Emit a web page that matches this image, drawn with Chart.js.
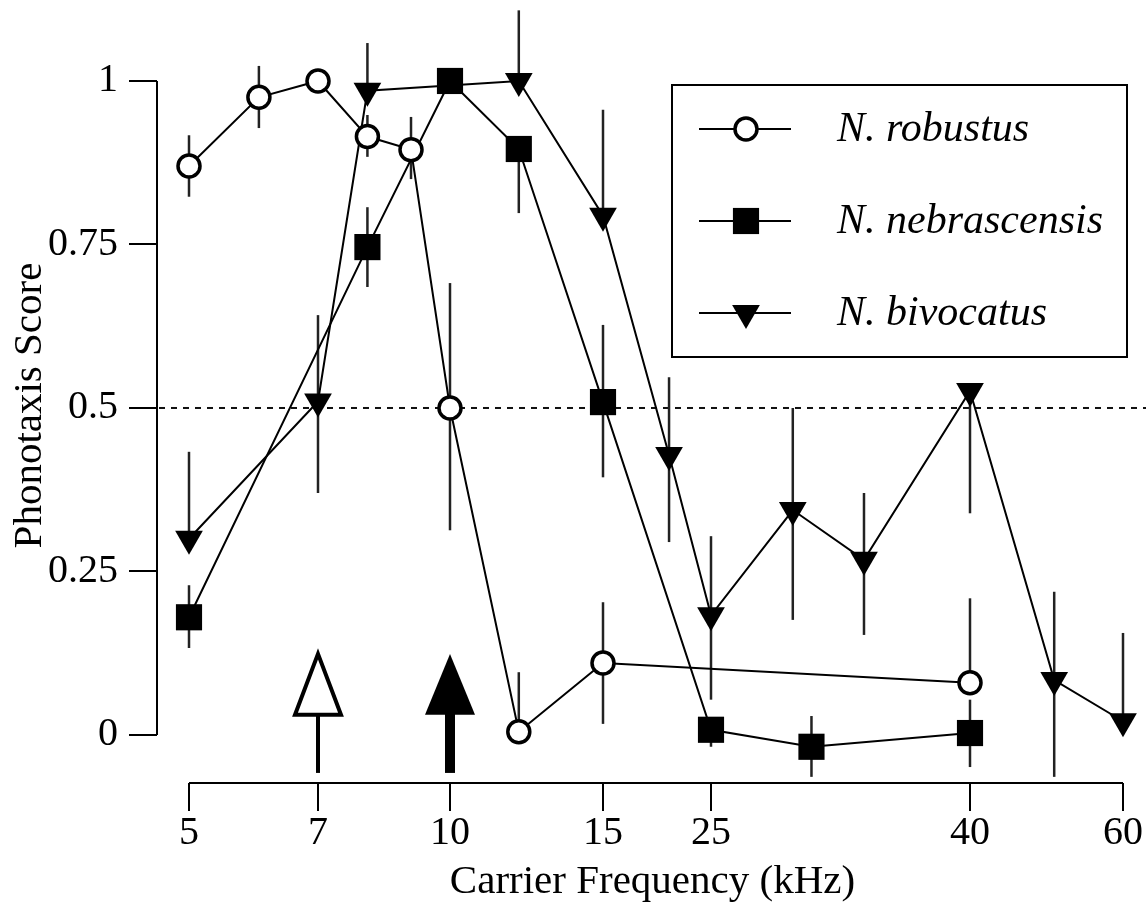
<!DOCTYPE html>
<html>
<head>
<meta charset="utf-8">
<title>Phonotaxis score vs carrier frequency</title>
<script src="https://cdn.jsdelivr.net/npm/chart.js@4.4.1/dist/chart.umd.min.js"></script>
<style>
  body { margin: 0; background: #fff; }
  canvas { display: block; }
</style>
</head>
<body>
<canvas id="myChart" width="1148" height="906"></canvas>
<script>
// axis ticks
var freqTicks = [5, 7, 10, 15, 25, 40, 60];
var scoreTicks = [0, 0.25, 0.5, 0.75, 1];

var seriesNames = ['N. robustus', 'N. nebrascensis', 'N. bivocatus'];

// N. robustus
var robFreq  = [5, 6, 7, 8, 9, 10, 12, 15, 40];
var robScore = [0.87, 0.975, 1.0, 0.915, 0.895, 0.50, 0.005, 0.11, 0.08];
var robLow   = [0.823, 0.928, null, 0.884, 0.85, 0.313, null, 0.017, null];
var robHigh  = [0.917, 1.023, null, 0.948, 0.945, 0.691, 0.096, 0.203, 0.209];

// N. nebrascensis
var nebFreq  = [5, 8, 10, 12, 15, 25, 30, 40];
var nebScore = [0.18, 0.746, 1.0, 0.896, 0.509, 0.008, -0.018, 0.003];
var nebLow   = [0.133, 0.685, null, 0.798, 0.394, -0.018, -0.064, -0.049];
var nebHigh  = [0.229, 0.807, null, null, 0.627, null, 0.029, 0.054];

// N. bivocatus
var bivFreq  = [5, 7, 8, 12, 15, 20.5, 25, 29, 33, 40, 50, 60];
var bivScore = [0.30, 0.51, 0.985, 1.0, 0.794, 0.428, 0.183, 0.344, 0.268, 0.526, 0.084, 0.021];
var bivLow   = [null, 0.37, null, null, null, 0.295, 0.054, 0.176, 0.153, 0.339, -0.064, null];
var bivHigh  = [0.433, 0.642, 1.058, 1.108, 0.956, 0.547, 0.304, 0.5, 0.37, null, 0.219, 0.156];

// tone frequencies marked with arrows (open, filled)
var arrowFreqs = [7, 10];

// relative widths of the axis segments between the frequency ticks
var xSegWidths = [129, 132, 153, 108, 259, 153];

var allSeries = [
    {freq: robFreq, score: robScore, low: robLow, high: robHigh},
    {freq: nebFreq, score: nebScore, low: nebLow, high: nebHigh},
    {freq: bivFreq, score: bivScore, low: bivLow, high: bivHigh}
];

// frequency axis: log spacing inside each tick segment, segment widths from the figure
class KnotScale extends Chart.LinearScale {
    fraction(v) {
        var total = 0, acc = 0;
        for (var i = 0; i < xSegWidths.length; i++) total += xSegWidths[i];
        for (var i = 0; i < xSegWidths.length; i++) {
            var a = freqTicks[i], b = freqTicks[i + 1];
            if (v <= b || i == xSegWidths.length - 1) {
                return (acc + xSegWidths[i] * Math.log(v / a) / Math.log(b / a)) / total;
            }
            acc += xSegWidths[i];
        }
    }
    getPixelForValue(v) {
        var x0 = this.left + 32, x1 = this.right - 25;
        return x0 + this.fraction(v) * (x1 - x0);
    }
    getValueForPixel(p) {
        var lo = freqTicks[0], hi = freqTicks[freqTicks.length - 1];
        for (var k = 0; k < 40; k++) {
            var mid = (lo + hi) / 2;
            if (this.getPixelForValue(mid) < p) lo = mid; else hi = mid;
        }
        return lo;
    }
}
KnotScale.id = 'knot';
KnotScale.defaults = {};
Chart.register(KnotScale);

function makeData(s) {
    var pts = [];
    for (var i = 0; i < s.freq.length; i++) pts.push({x: s.freq[i], y: s.score[i]});
    return pts;
}

var pointStyles = [
    {pointStyle: 'circle', radius: 11, rotation: 0, borderWidth: 3.5, bg: '#fff'},
    {pointStyle: 'rect', radius: 18.5, rotation: 0, borderWidth: 0, bg: '#000'},
    {pointStyle: 'triangle', radius: 16, rotation: 180, borderWidth: 0, bg: '#000'}
];

var datasets = allSeries.map(function (s, i) {
    var st = pointStyles[i];
    return {
        label: seriesNames[i],
        data: makeData(s),
        borderColor: '#000',
        borderWidth: 2,
        tension: 0,
        fill: false,
        clip: false,
        pointStyle: st.pointStyle,
        pointRadius: st.radius,
        pointRotation: st.rotation,
        pointBorderWidth: st.borderWidth,
        pointBorderColor: '#000',
        pointBackgroundColor: st.bg
    };
});

var serif = "'Liberation Serif', 'Times New Roman', serif";

var decorations = {
    id: 'decorations',
    beforeDatasetsDraw: function (chart) {
        var ctx = chart.ctx, xs = chart.scales.x, ys = chart.scales.y, area = chart.chartArea;
        ctx.save();
        // axis lines
        ctx.strokeStyle = '#000';
        ctx.lineWidth = 2;
        ctx.beginPath();
        ctx.moveTo(area.left, ys.getPixelForValue(1));
        ctx.lineTo(area.left, ys.getPixelForValue(0));
        ctx.moveTo(xs.getPixelForValue(freqTicks[0]), area.bottom);
        ctx.lineTo(xs.getPixelForValue(freqTicks[freqTicks.length - 1]), area.bottom);
        ctx.stroke();
        // 0.5 reference line
        ctx.setLineDash([6, 6]);
        ctx.strokeStyle = '#111';
        ctx.beginPath();
        ctx.moveTo(area.left + 2, ys.getPixelForValue(0.5));
        ctx.lineTo(area.right - 2, ys.getPixelForValue(0.5));
        ctx.stroke();
        ctx.setLineDash([]);
        // error bars
        ctx.strokeStyle = '#222';
        ctx.lineWidth = 2.5;
        allSeries.forEach(function (s) {
            for (var i = 0; i < s.freq.length; i++) {
                var x = xs.getPixelForValue(s.freq[i]);
                var lo = s.low[i] == null ? s.score[i] : s.low[i];
                var hi = s.high[i] == null ? s.score[i] : s.high[i];
                if (lo == hi) continue;
                ctx.beginPath();
                ctx.moveTo(x, ys.getPixelForValue(lo));
                ctx.lineTo(x, ys.getPixelForValue(hi));
                ctx.stroke();
            }
        });
        ctx.restore();
    },
    afterDraw: function (chart) {
        var ctx = chart.ctx, xs = chart.scales.x, ys = chart.scales.y;
        ctx.save();
        // arrows
        arrowFreqs.forEach(function (f, i) {
            var x = xs.getPixelForValue(f);
            var top = ys.getPixelForValue(0.124);
            var base = ys.getPixelForValue(0.031);
            var tail = ys.getPixelForValue(-0.058);
            ctx.strokeStyle = '#000';
            ctx.fillStyle = '#000';
            if (i == 0) {
                ctx.lineWidth = 4;
                ctx.beginPath();
                ctx.moveTo(x, base);
                ctx.lineTo(x, tail);
                ctx.stroke();
                ctx.beginPath();
                ctx.moveTo(x, top);
                ctx.lineTo(x + 23, base);
                ctx.lineTo(x - 23, base);
                ctx.closePath();
                ctx.fillStyle = '#fff';
                ctx.fill();
                ctx.stroke();
            } else {
                ctx.fillRect(x - 5, base - 1, 10, tail - base + 1);
                ctx.beginPath();
                ctx.moveTo(x, top);
                ctx.lineTo(x + 25, base);
                ctx.lineTo(x - 25, base);
                ctx.closePath();
                ctx.fill();
            }
        });
        // legend box
        ctx.lineWidth = 2;
        ctx.strokeStyle = '#000';
        ctx.strokeRect(672, 85, 455, 272);
        ctx.font = 'italic 42px ' + serif;
        ctx.textBaseline = 'middle';
        ctx.textAlign = 'left';
        seriesNames.forEach(function (name, i) {
            var y = 129 + i * 92;
            var st = pointStyles[i];
            ctx.strokeStyle = '#000';
            ctx.lineWidth = 2;
            ctx.beginPath();
            ctx.moveTo(699, y);
            ctx.lineTo(791, y);
            ctx.stroke();
            ctx.fillStyle = st.bg;
            ctx.lineWidth = st.borderWidth;
            Chart.helpers.drawPoint(ctx, {pointStyle: st.pointStyle, radius: st.radius, rotation: st.rotation, borderWidth: st.borderWidth}, 746, y);
            ctx.fillStyle = '#000';
            ctx.fillText(name, 837, y + 1);
        });
        ctx.restore();
    }
};

function noPadding(s) {
    s.paddingLeft = 0;
    s.paddingRight = 0;
    s.paddingTop = 0;
    s.paddingBottom = 0;
}

var chart = new Chart(document.getElementById('myChart').getContext('2d'), {
    type: 'line',
    data: {datasets: datasets},
    plugins: [decorations],
    options: {
        responsive: false,
        animation: false,
        events: [],
        layout: {autoPadding: false, padding: {top: 28, left: 0, right: 0, bottom: 0}},
        plugins: {legend: {display: false}, tooltip: {enabled: false}},
        scales: {
            x: {
                type: 'knot',
                min: 5,
                max: 60,
                afterBuildTicks: function (s) { s.ticks = freqTicks.map(function (v) { return {value: v}; }); },
                afterFit: function (s) { s.height = 123; noPadding(s); },
                border: {display: false},
                grid: {drawOnChartArea: false, drawTicks: true, tickLength: 28, color: '#000', lineWidth: 2},
                ticks: {
                    autoSkip: false, maxRotation: 0, padding: 0, color: '#000',
                    font: {family: serif, size: 40, lineHeight: 1.1},
                    callback: function (v) { return String(v); }
                },
                title: {
                    display: true, text: 'Carrier Frequency (kHz)', color: '#000',
                    font: {family: serif, size: 41, lineHeight: 1.1},
                    padding: {top: 0, bottom: 1}
                }
            },
            y: {
                type: 'linear',
                min: -0.0734,
                max: 1.081,
                afterBuildTicks: function (s) { s.ticks = scoreTicks.map(function (v) { return {value: v}; }); },
                afterFit: function (s) { s.width = 157; noPadding(s); },
                border: {display: false},
                grid: {drawOnChartArea: false, drawTicks: true, tickLength: 28, color: '#000', lineWidth: 2},
                ticks: {
                    padding: 11, color: '#000',
                    font: {family: serif, size: 40, lineHeight: 1.1},
                    callback: function (v) { return String(v); }
                },
                title: {
                    display: true, text: 'Phonotaxis Score', color: '#000',
                    font: {family: serif, size: 41, lineHeight: 1.1},
                    padding: {top: 8, bottom: 0}
                }
            }
        }
    }
});
</script>
</body>
</html>
